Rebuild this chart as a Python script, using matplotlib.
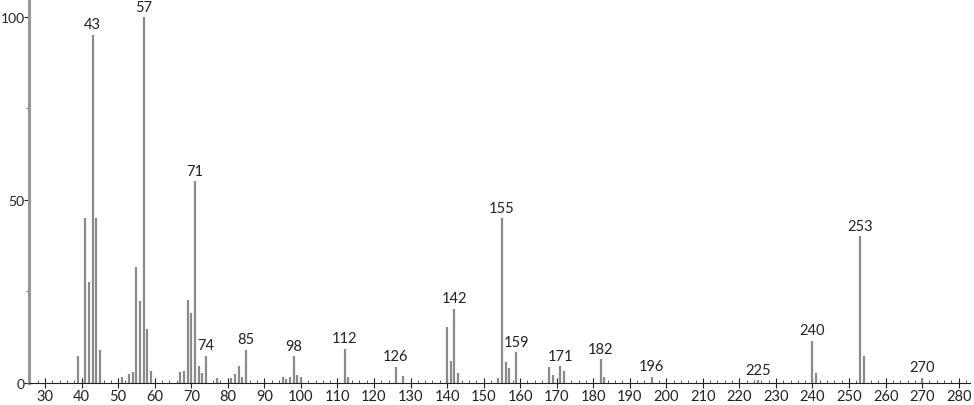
import matplotlib
matplotlib.use("Agg")
import matplotlib.pyplot as plt
from matplotlib.ticker import MultipleLocator

# m/z values and relative intensities
mz = [39, 41, 42, 43, 44, 45, 51, 53, 54, 55, 56, 57, 58, 59,
      67, 68, 69, 70, 71, 72, 73, 74, 77, 81, 82, 83, 84, 85,
      95, 96, 97, 98, 99, 100, 112, 113, 126, 128,
      140, 141, 142, 143, 154, 155, 156, 157, 159,
      168, 169, 171, 172, 182, 183, 196, 225, 240, 241, 253, 254, 270]
intensity = [7.3, 45.1, 27.7, 95.2, 45.1, 9.1, 1.6, 2.4, 3.0, 31.6, 22.5, 100, 14.8, 3.4,
             3.1, 3.3, 22.6, 19.0, 55.2, 4.6, 2.6, 7.5, 1.4, 1.5, 2.5, 4.6, 1.7, 9.1,
             1.6, 1.2, 1.6, 7.3, 2.3, 1.6, 9.4, 1.6, 4.5, 1.8,
             15.3, 5.9, 20.3, 2.6, 1.5, 45.1, 5.7, 4.1, 8.4,
             4.5, 2.3, 4.7, 3.3, 6.6, 1.6, 1.7, 0.8, 11.6, 2.6, 40.2, 7.5, 1.5]

labelled = [43, 57, 71, 74, 85, 98, 112, 126, 142, 155, 159, 171, 182, 196, 225, 240, 253, 270]

plt.rcParams['font.family'] = ['Lato', 'DejaVu Sans']

fig = plt.figure(figsize=(9.74, 4.06), dpi=100)
ax = fig.add_axes([29 / 974, 22 / 406, 941 / 974, 384 / 406])

ax.vlines(mz, 0, intensity, color="#8a8a8a", linewidth=1.6)

for m, v in zip(mz, intensity):
    if m in labelled:
        ax.text(m, v + 0.9, str(m), ha="center", va="bottom", fontsize=10.5, color="#222222")

ax.set_xlim(25.6, 283.1)
ax.set_ylim(0, 104.9)

ax.xaxis.set_major_locator(MultipleLocator(10))
ax.xaxis.set_minor_locator(MultipleLocator(2))
ax.yaxis.set_major_locator(MultipleLocator(50))
ax.yaxis.set_minor_locator(MultipleLocator(25))

ax.tick_params(axis="x", which="major", direction="inout", length=7, width=0.8, labelsize=10.5, pad=1, colors="#222222")
ax.tick_params(axis="x", which="minor", direction="in", length=2.5, width=0.6, colors="#444444")
ax.tick_params(axis="y", which="major", direction="out", length=3.5, width=0.8, labelsize=10, pad=-0.5, colors="#222222")
ax.tick_params(axis="y", which="minor", direction="out", length=2.5, width=0.6, colors="#444444")

for side in ("top", "right"):
    ax.spines[side].set_visible(False)
ax.spines["left"].set_color("#999999")
ax.spines["left"].set_linewidth(2.2)
ax.spines["bottom"].set_color("#222222")
ax.spines["bottom"].set_linewidth(0.8)

fig.savefig("out.png", dpi=100)
